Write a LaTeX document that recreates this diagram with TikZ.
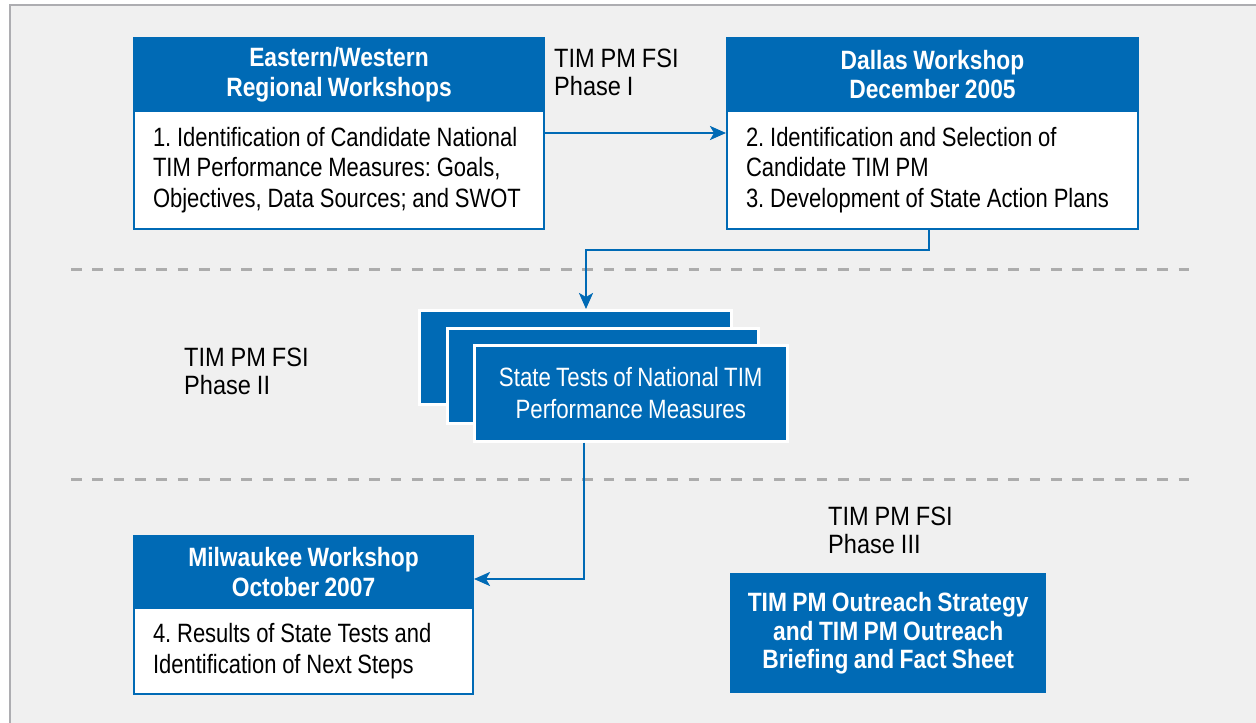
\documentclass[tikz,border=0pt]{standalone}
\usepackage{fontspec}
\setmainfont{Liberation Sans}[FakeStretch=0.86,WordSpace=0.85]
\newfontfamily\bodyf{Liberation Sans}[FakeStretch=0.83,WordSpace=0.95]
\newfontfamily\lblf{Liberation Sans}[FakeStretch=0.89,WordSpace=0.9]
\newfontfamily\statef{Liberation Sans}[FakeStretch=0.84,WordSpace=0.85]
\usetikzlibrary{arrows.meta}
\definecolor{tblue}{RGB}{0,106,181}
\definecolor{bgc}{RGB}{240,240,240}
\definecolor{framec}{RGB}{173,173,177}
\definecolor{dashc}{RGB}{172,172,172}
\newcommand\tfnt{\bodyf\fontsize{26.5}{30.5}\selectfont}
\newcommand\tfntb{\fontsize{26.5}{29.5}\selectfont\bfseries}
\newcommand\lblfnt{\lblf\fontsize{26.5}{27.5}\selectfont}
\newcommand\natsp{\spaceskip=0pt\xspaceskip=0pt\relax}
\frenchspacing
\begin{document}
\begin{tikzpicture}[x=1pt,y=-1pt,
  headbox/.style={fill=tblue,draw=tblue,line width=2pt,text=white,font=\tfntb,
    align=center,inner sep=0pt,anchor=north west},
  bodybox/.style={fill=white,draw=tblue,line width=2pt,text=black,font=\tfnt,
    align=left,inner xsep=19pt,inner ysep=0pt,anchor=north west},
  stackbox/.style={fill=tblue,draw=white,line width=2.5pt,anchor=north west,inner sep=0pt},
  lbl/.style={font=\lblfnt,align=left,anchor=north west,inner sep=0pt,text=black},
  conn/.style={draw=tblue,line width=2.5pt,-{Stealth[length=16pt,width=14pt,inset=4pt]}},
  sep/.style={draw=dashc,line width=3pt,dash pattern=on 10.7pt off 10.6pt}
]
\useasboundingbox (0,0) rectangle (1256,723);
\fill[white] (0,0) rectangle (1256,723);
\fill[bgc] (10,5) rectangle (1256,723);
\draw[framec,line width=2.5pt] (10,723) -- (10,5) -- (1256,5);

% separators
\coordinate (s1a) at (71,269); \coordinate (s1b) at (1190,269);
\coordinate (s2a) at (71,479); \coordinate (s2b) at (1190,479);
\draw[sep] (s1a) -- (s1b);
\draw[sep] (s2a) -- (s2b);

% Eastern/Western
\node[headbox,minimum width=410pt,minimum height=73pt] (h1) at (133,37)
  {Eastern/Western\\Regional Workshops};
\node[bodybox,minimum width=410pt,minimum height=118pt,text width=372pt] (b1) at (133,110)
  {\natsp\mbox{1. Identification of Candidate National}\\\mbox{TIM Performance Measures: Goals,}\\\mbox{Objectives, Data Sources; and SWOT}};

% Dallas
\node[headbox,minimum width=411pt,minimum height=73pt] (h2) at (726,37)
  {Dallas Workshop\\December 2005};
\node[bodybox,minimum width=411pt,minimum height=118pt,text width=373pt] (b2) at (726,110)
  {\natsp\mbox{2. Identification and Selection of}\\\mbox{Candidate TIM PM}\\\mbox{3. Development of State Action Plans}};

% Phase labels
\node[lbl] (p1) at (554,49) {TIM PM FSI\\Phase I};
\node[lbl] (p2) at (184,348) {TIM PM FSI\\Phase II};
\node[lbl] (p3) at (828,507) {TIM PM FSI\\Phase III};

% stack
\node[stackbox,minimum width=312pt,minimum height=94pt] (sa) at (418,309) {};
\node[stackbox,minimum width=311pt,minimum height=95pt] (sb) at (446,327) {};
\node[stackbox,minimum width=313pt,minimum height=96pt,text=white,font=\statef\fontsize{26.5}{32}\selectfont,align=center] (sc) at (473,344)
  {State Tests of National TIM\\Performance Measures};

% Milwaukee
\node[headbox,minimum width=339pt,minimum height=72pt] (h3) at (133,535)
  {Milwaukee Workshop\\October 2007};
\node[bodybox,minimum width=339pt,minimum height=86pt,text width=301pt] (b3) at (133,607)
  {\natsp\mbox{4. Results of State Tests and}\\\mbox{Identification of Next Steps}};

% Outreach
\node[fill=tblue,text=white,font=\fontsize{26.5}{28.5}\selectfont\bfseries,align=center,
  anchor=north west,inner sep=0pt,minimum width=316pt,minimum height=120pt] (o) at (730,573)
  {TIM PM Outreach Strategy\\and TIM PM Outreach\\Briefing and Fact Sheet};

% connectors
\coordinate (j1) at (586,250);
\coordinate (j2) at (584,579);
\draw[conn] (b1.east |- 0,133) -- (b2.west |- 0,133);
\draw[conn] (b2.south -| 929,0) |- (j1) -- (sa.north -| j1);
\draw[conn] (sc.south -| j2) -- (j2) -- (h3.east |- j2);
\end{tikzpicture}
\end{document}
